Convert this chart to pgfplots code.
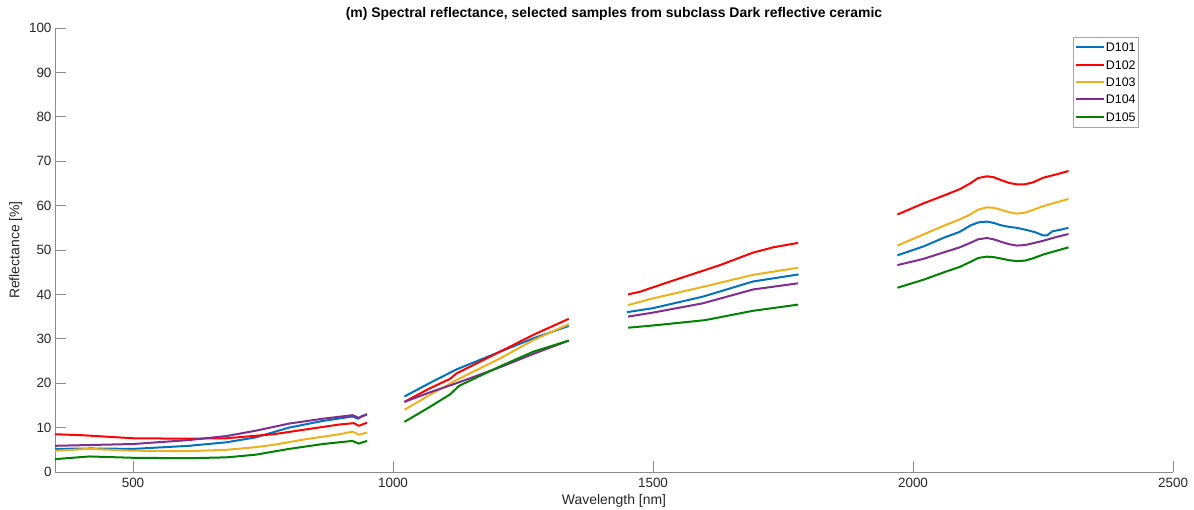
\documentclass[border=0pt]{standalone}
\usepackage{fontspec}
\setmainfont{Liberation Sans}
\usepackage{pgfplots}
\usepackage{pgfplotstable}
\pgfplotsset{compat=1.18}

\definecolor{cA}{rgb}{0,0.447,0.741}
\definecolor{cB}{rgb}{1,0,0}
\definecolor{cC}{rgb}{0.929,0.694,0.125}
\definecolor{cD}{rgb}{0.494,0.184,0.556}
\definecolor{cE}{rgb}{0,0.5,0}

% Reflectance spectra; nan rows mark the removed water absorption bands
\pgfplotstableread{
x y
350 5.2
420 5.3
500 5.2
608 5.9
680 6.7
736 7.8
800 10.0
865 11.5
922 12.5
933 12.0
940 12.6
950 13.0
980 nan
1022 17.0
1070 20.0
1122 23.1
1206 27.1
1270 30.1
1338 32.9
1400 nan
1450 36.0
1500 36.9
1596 39.5
1692 42.9
1780 44.5
1900 nan
1970 48.8
2020 50.8
2060 52.8
2090 54.1
2110 55.5
2125 56.2
2142 56.4
2155 56.1
2168 55.6
2185 55.2
2199 55.0
2215 54.6
2235 54.0
2250 53.3
2258 53.3
2268 54.2
2285 54.6
2299 55.0
}\dA
\pgfplotstableread{
x y
350 8.5
400 8.3
500 7.6
600 7.5
680 7.6
770 8.5
833 9.6
897 10.7
925 11.0
934 10.4
950 11.1
980 nan
1022 15.8
1070 18.8
1110 21.0
1122 22.2
1206 27.1
1270 30.9
1338 34.5
1400 nan
1452 40.0
1475 40.6
1533 42.9
1629 46.6
1692 49.4
1731 50.6
1779 51.6
1900 nan
1970 58.0
2020 60.5
2060 62.3
2090 63.7
2110 65.0
2125 66.2
2142 66.6
2155 66.4
2168 65.8
2185 65.1
2199 64.8
2215 64.8
2230 65.2
2251 66.3
2275 67.0
2299 67.8
}\dB
\pgfplotstableread{
x y
350 4.8
416 5.2
500 4.8
608 4.7
680 5.0
736 5.6
769 6.1
833 7.4
897 8.5
922 9.1
934 8.4
950 8.9
980 nan
1022 14.0
1070 17.3
1122 20.7
1206 25.6
1270 29.7
1338 33.3
1400 nan
1452 37.6
1500 39.1
1596 41.7
1692 44.4
1779 46.0
1900 nan
1970 51.0
2020 53.5
2060 55.5
2090 56.9
2110 58.0
2125 59.1
2142 59.6
2155 59.5
2168 59.1
2185 58.5
2199 58.2
2215 58.4
2230 59.0
2251 59.9
2275 60.7
2299 61.5
}\dC
\pgfplotstableread{
x y
350 5.9
500 6.3
608 7.2
680 8.1
736 9.3
800 10.9
865 12.0
922 12.8
934 12.2
950 13.0
980 nan
1022 15.8
1070 17.9
1122 20.0
1206 23.6
1270 26.6
1338 29.6
1400 nan
1452 35.0
1500 35.9
1596 38.0
1692 41.1
1779 42.5
1900 nan
1970 46.6
2020 48.0
2060 49.5
2090 50.6
2110 51.6
2125 52.4
2142 52.7
2155 52.4
2168 51.9
2185 51.3
2199 51.0
2215 51.1
2230 51.5
2251 52.1
2275 52.9
2299 53.6
}\dD
\pgfplotstableread{
x y
350 2.9
416 3.5
500 3.2
608 3.1
680 3.3
736 3.9
800 5.2
865 6.3
922 7.0
934 6.4
950 7.0
980 nan
1022 11.3
1070 14.6
1110 17.5
1127 19.4
1206 23.8
1270 27.1
1338 29.6
1400 nan
1452 32.5
1500 33.0
1600 34.2
1692 36.3
1779 37.7
1900 nan
1970 41.5
2020 43.3
2060 45.0
2090 46.2
2110 47.3
2125 48.2
2142 48.5
2155 48.4
2168 48.1
2185 47.7
2199 47.5
2215 47.6
2230 48.1
2251 49.0
2275 49.8
2299 50.6
}\dE

\begin{document}
\begin{tikzpicture}
\useasboundingbox (-55bp,-38bp) rectangle (1139bp,472bp);
\begin{axis}[
  at={(0,0)}, anchor=south west,
  scale only axis, width=1118bp, height=444bp,
  xmin=350, xmax=2500, ymin=0, ymax=100,
  xtick={500,1000,1500,2000,2500},
  ytick={0,10,...,100},
  axis x line*=bottom, axis y line*=left,
  axis line style={-, black!45},
  tick style={black!45, line width=0.6bp},
  tick align=inside, major tick length=11bp,
  /pgf/number format/1000 sep={},
  /pgf/number format/assume math mode=true,
  ticklabel style={font=\fontsize{13.5}{15}\selectfont, text=black!85},
  xticklabel style={yshift=-3bp},
  label style={font=\fontsize{14}{16}\selectfont, text=black!85},
  xlabel={Wavelength [nm]},
  ylabel={Reflectance [\%]},
  title={(m) Spectral reflectance, selected samples from subclass Dark reflective ceramic},
  every axis title shift=0pt,
  title style={font=\bfseries\fontsize{14}{16}\selectfont, at={(0.5,1)}, anchor=base, yshift=10bp},
  unbounded coords=jump,
  every axis plot/.append style={line width=2bp, line join=round},
  legend image code/.code={\draw[#1, line width=2bp] (0bp,0bp) -- (28bp,0bp);},
  legend style={at={(0.9687,0.9797)}, anchor=north east,
    draw=black!35, inner xsep=1bp, inner ysep=1.5bp,
    font=\fontsize{12.5}{14}\selectfont,
    nodes={inner xsep=1.2bp, inner ysep=4.15bp, text height=9bp, text depth=0bp},
    cells={anchor=west}},
  legend cell align=left,
]
\addplot[cA] table[x=x,y=y] {\dA};
\addlegendentry{D101}
\addplot[cB] table[x=x,y=y] {\dB};
\addlegendentry{D102}
\addplot[cC] table[x=x,y=y] {\dC};
\addlegendentry{D103}
\addplot[cD] table[x=x,y=y] {\dD};
\addlegendentry{D104}
\addplot[cE] table[x=x,y=y] {\dE};
\addlegendentry{D105}
\end{axis}
\end{tikzpicture}
\end{document}
